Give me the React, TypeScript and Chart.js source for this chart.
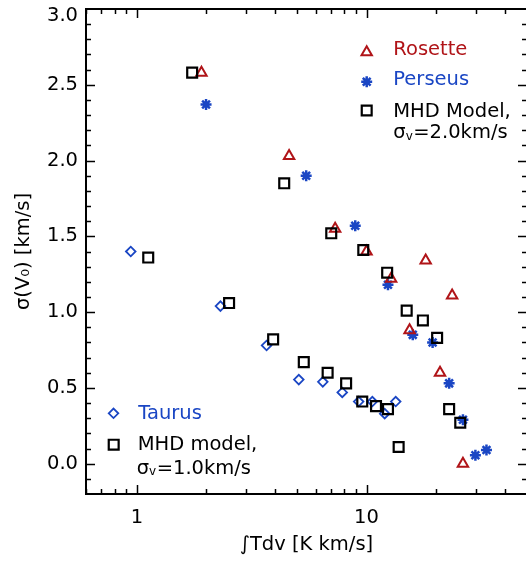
import React, { useEffect, useRef } from 'react';
import { Chart, registerables } from 'chart.js';

Chart.register(...registerables);

// ---- data ----
const rosetteX = [1.91, 4.6, 7.3, 10.0, 18.1, 12.8, 23.6, 15.4, 20.9, 26.3];
const rosetteY = [2.58, 2.03, 1.55, 1.4, 1.34, 1.22, 1.11, 0.88, 0.6, 0.0];

const perseusX = [2.0, 5.46, 8.93, 12.4, 15.9, 19.4, 22.9, 26.3, 29.8, 33.3];
const perseusY = [2.37, 1.9, 1.57, 1.18, 0.85, 0.8, 0.53, 0.29, 0.055, 0.09];

const mhd2X = [1.74, 4.38, 7.02, 9.68, 12.3, 14.96, 17.6, 20.3, 22.9, 25.6];
const mhd2Y = [2.58, 1.85, 1.52, 1.41, 1.26, 1.01, 0.945, 0.83, 0.36, 0.27];

const taurusX = [0.94, 2.31, 3.67, 5.07, 6.45, 7.84, 9.24, 10.6, 12.0, 13.4];
const taurusY = [1.4, 1.04, 0.78, 0.555, 0.54, 0.47, 0.41, 0.41, 0.33, 0.41];

const mhd1X = [1.12, 2.52, 3.92, 5.33, 6.77, 8.15, 9.58, 11.0, 12.4, 13.8];
const mhd1Y = [1.36, 1.06, 0.82, 0.67, 0.6, 0.53, 0.41, 0.38, 0.36, 0.11];

const xTickValues = [1, 10];
const yTickValues = [0, 0.5, 1.0, 1.5, 2.0, 2.5, 3.0];
const xMin = 0.6;
const xMax = 50;
const yMin = -0.2;
const yMax = 3.0;

const RED = '#b01418';
const BLUE = '#1a46c4';
const BLACK = '#000000';
const FONT = '"DejaVu Sans", "Liberation Sans", sans-serif';
const FS = 19.5;

const toPoints = (xs: number[], ys: number[]) => xs.map((x, i) => ({ x, y: ys[i] }));

function drawShape(ctx: CanvasRenderingContext2D, style: string, x: number, y: number, r: number, color: string, lw: number) {
  ctx.save();
  ctx.beginPath();
  ctx.strokeStyle = color;
  ctx.lineWidth = lw;
  if (style === 'triangle') {
    ctx.moveTo(x, y - r);
    ctx.lineTo(x + r * 0.866, y + r / 2);
    ctx.lineTo(x - r * 0.866, y + r / 2);
    ctx.closePath();
  } else if (style === 'rect') {
    const s = r * Math.SQRT1_2;
    ctx.rect(x - s, y - s, 2 * s, 2 * s);
  } else if (style === 'rectRot') {
    ctx.moveTo(x - r, y);
    ctx.lineTo(x, y - r);
    ctx.lineTo(x + r, y);
    ctx.lineTo(x, y + r);
    ctx.closePath();
  } else {
    for (let k = 0; k < 4; k++) {
      const a = (k * Math.PI) / 4;
      ctx.moveTo(x + Math.cos(a) * r, y + Math.sin(a) * r);
      ctx.lineTo(x - Math.cos(a) * r, y - Math.sin(a) * r);
    }
  }
  ctx.stroke();
  ctx.restore();
}

function drawSigmaText(ctx: CanvasRenderingContext2D, x: number, baseline: number, rest: string) {
  ctx.font = `${FS}px ${FONT}`;
  ctx.fillText('σ', x, baseline);
  const w1 = ctx.measureText('σ').width;
  ctx.font = `12px ${FONT}`;
  ctx.fillText('v', x + w1, baseline + 1.2);
  const w2 = ctx.measureText('v').width;
  ctx.font = `${FS}px ${FONT}`;
  ctx.fillText(rest, x + w1 + w2 + 0.5, baseline);
}

const zeroPadding = (s: any) => {
  s.paddingTop = 0;
  s.paddingBottom = 0;
  s.paddingLeft = 0;
  s.paddingRight = 0;
};

const frameTicksPlugin = {
  id: 'frameTicks',
  afterDraw(chart: any) {
    const { ctx, chartArea: ca } = chart;
    const xs = chart.scales.x;
    const ys = chart.scales.y;
    ctx.save();
    ctx.strokeStyle = BLACK;
    ctx.lineWidth = 2;
    ctx.strokeRect(ca.left, ca.top, ca.right - ca.left, ca.bottom - ca.top);
    ctx.lineWidth = 1.5;
    ctx.beginPath();
    const MAJ = 9;
    const MIN = 5;
    const xMinor: number[] = [];
    for (let d = 0.1; d <= 10; d *= 10) {
      for (let m = 2; m <= 9; m++) {
        const v = m * d;
        if (v > xMin && v < xMax && !xTickValues.includes(v)) xMinor.push(v);
      }
    }
    const xTicks = [
      ...xTickValues.map((v) => [v, MAJ]),
      ...xMinor.map((v) => [v, MIN]),
    ];
    xTicks.forEach(([v, len]) => {
      const px = Math.round(xs.getPixelForValue(v)) + 0.5;
      ctx.moveTo(px, ca.bottom);
      ctx.lineTo(px, ca.bottom - len);
      ctx.moveTo(px, ca.top);
      ctx.lineTo(px, ca.top + len);
    });
    for (let i = -1; i < 30; i++) {
      const v = i / 10;
      const len = i % 5 === 0 ? MAJ : MIN;
      const py = Math.round(ys.getPixelForValue(v)) + 0.5;
      ctx.moveTo(ca.left, py);
      ctx.lineTo(ca.left + len, py);
      ctx.moveTo(ca.right, py);
      ctx.lineTo(ca.right - len, py);
    }
    ctx.stroke();
    ctx.restore();
  },
};

const legendPlugin = {
  id: 'cornerLegends',
  afterDraw(chart: any) {
    const { ctx, chartArea: ca } = chart;
    const X = (v: number) => ca.left + (v - 86);
    const Y = (v: number) => ca.top + (v - 9);
    ctx.save();
    ctx.textAlign = 'left';
    ctx.textBaseline = 'alphabetic';
    drawShape(ctx, 'triangle', X(366.7), Y(52.3), 6, RED, 2);
    drawShape(ctx, 'star', X(366.7), Y(81.7), 5.5, BLUE, 2.5);
    drawShape(ctx, 'rect', X(366.7), Y(110.5), 7, BLACK, 2.2);
    ctx.font = `${FS}px ${FONT}`;
    ctx.fillStyle = RED;
    ctx.fillText('Rosette', X(393.3), Y(55));
    ctx.fillStyle = BLUE;
    ctx.fillText('Perseus', X(393.3), Y(85));
    ctx.fillStyle = BLACK;
    ctx.fillText('MHD Model,', X(393.3), Y(116.7));
    drawSigmaText(ctx, X(393.3), Y(138.3), '=2.0km/s');
    drawShape(ctx, 'rectRot', X(113.5), Y(413.3), 4.8, BLUE, 1.8);
    drawShape(ctx, 'rect', X(113.7), Y(444.7), 7, BLACK, 2.2);
    ctx.font = `${FS}px ${FONT}`;
    ctx.fillStyle = BLUE;
    ctx.fillText('Taurus', X(138.3), Y(419));
    ctx.fillStyle = BLACK;
    ctx.fillText('MHD model,', X(137.7), Y(450));
    drawSigmaText(ctx, X(136.7), Y(474), '=1.0km/s');
    ctx.restore();
  },
};

export default function App() {
  const ref = useRef<HTMLCanvasElement | null>(null);

  useEffect(() => {
    if (!ref.current) return;
    const font = { family: FONT, size: FS };
    const chart = new Chart(ref.current, {
      type: 'scatter',
      data: {
        datasets: [
          {
            label: 'MHD model, σv=1.0km/s',
            data: toPoints(mhd1X, mhd1Y),
            pointStyle: 'rect',
            pointRadius: 7,
            pointBorderWidth: 2.2,
            borderColor: BLACK,
            backgroundColor: 'rgba(0,0,0,0)',
          },
          {
            label: 'MHD Model, σv=2.0km/s',
            data: toPoints(mhd2X, mhd2Y),
            pointStyle: 'rect',
            pointRadius: 7,
            pointBorderWidth: 2.2,
            borderColor: BLACK,
            backgroundColor: 'rgba(0,0,0,0)',
          },
          {
            label: 'Taurus',
            data: toPoints(taurusX, taurusY),
            pointStyle: 'rectRot',
            pointRadius: 4.8,
            pointBorderWidth: 1.8,
            borderColor: BLUE,
            backgroundColor: 'rgba(0,0,0,0)',
          },
          {
            label: 'Rosette',
            data: toPoints(rosetteX, rosetteY),
            pointStyle: 'triangle',
            pointRadius: 6,
            pointBorderWidth: 2,
            borderColor: RED,
            backgroundColor: 'rgba(0,0,0,0)',
          },
          {
            label: 'Perseus',
            data: toPoints(perseusX, perseusY),
            pointStyle: 'star',
            pointRadius: 5.5,
            pointBorderWidth: 2.5,
            borderColor: BLUE,
            backgroundColor: 'rgba(0,0,0,0)',
          },
        ],
      },
      options: {
        animation: false,
        responsive: false,
        devicePixelRatio: 1,
        layout: { autoPadding: false, padding: { top: 9, right: 1, left: 0, bottom: 0 } },
        plugins: {
          legend: { display: false },
          tooltip: { enabled: false },
        },
        scales: {
          x: {
            type: 'logarithmic',
            position: 'bottom',
            min: xMin,
            max: xMax,
            grid: { display: false, drawTicks: false },
            border: { display: false },
            afterBuildTicks: (s: any) => {
              s.ticks = xTickValues.map((v) => ({ value: v }));
            },
            afterFit: (s: any) => {
              s.height = 68;
              zeroPadding(s);
            },
            ticks: {
              autoSkip: false,
              maxRotation: 0,
              padding: 12,
              color: BLACK,
              font,
              callback: (v: any) => String(v),
            },
            title: {
              display: true,
              text: '∫Tdv [K km/s]',
              color: BLACK,
              font,
              padding: { top: 0, bottom: 5 },
            },
          },
          y: {
            type: 'linear',
            position: 'left',
            min: yMin,
            max: yMax,
            grid: { display: false, drawTicks: false },
            border: { display: false },
            afterBuildTicks: (s: any) => {
              s.ticks = yTickValues.map((v) => ({ value: v }));
            },
            afterFit: (s: any) => {
              s.width = 86;
              zeroPadding(s);
            },
            ticks: {
              autoSkip: false,
              padding: 8,
              color: BLACK,
              font: { family: FONT, size: FS, lineHeight: 0.72 },
              callback: (v: any) => {
                const t = Number(v).toFixed(1);
                return Number(v) >= yMax ? ['', t] : t;
              },
            },
            title: {
              display: true,
              text: 'σ(V₀) [km/s]',
              color: BLACK,
              font,
              padding: { top: 12, bottom: 0 },
            },
          },
        },
      },
      plugins: [frameTicksPlugin, legendPlugin],
    } as any);
    return () => chart.destroy();
  }, []);

  return (
    <div style={{ position: 'absolute', left: 0, top: 0, width: 526, height: 562, overflow: 'hidden', background: '#fff' }}>
      <canvas ref={ref} width={528} height={562} style={{ display: 'block' }} />
    </div>
  );
}
